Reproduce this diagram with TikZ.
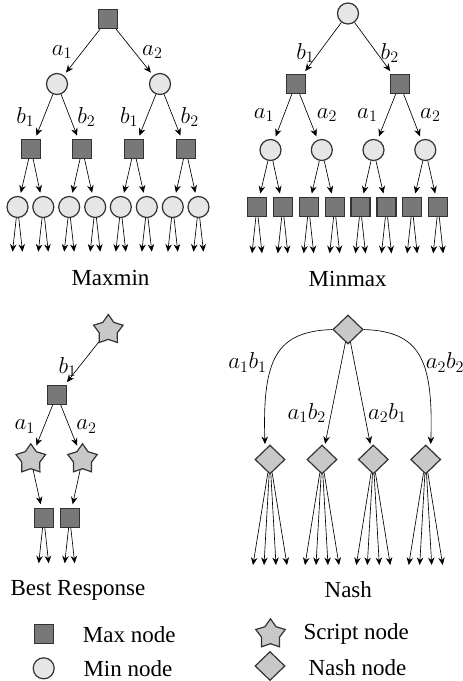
\RequirePackage{fix-cm}
\documentclass[tikz,border=0pt]{standalone}
\usepackage{fontspec}
\setmainfont{Liberation Serif}
\usetikzlibrary{shapes.geometric,arrows.meta,calc}
\definecolor{bord}{HTML}{333333}
\definecolor{maxfill}{HTML}{787878}
\definecolor{minfill}{HTML}{E6E6E6}
\definecolor{scrfill}{HTML}{C8C8C8}
\begin{document}
\begin{tikzpicture}[x=1pt,y=-1pt,
  every node/.style={font=\fontsize{23}{27}\selectfont},
  maxn/.style={rectangle,draw=bord,fill=maxfill,line width=1.2pt,minimum size=19pt,inner sep=0pt},
  minn/.style={circle,draw=bord,fill=minfill,line width=1.2pt,minimum size=21pt,inner sep=0pt},
  scriptn/.style={star,star points=5,star point ratio=1.65,draw=bord,fill=scrfill,line width=1.2pt,minimum size=31pt,inner sep=0pt},
  nashn/.style={diamond,draw=bord,fill=scrfill,line width=1.2pt,minimum width=30pt,minimum height=29pt,inner sep=0pt},
  arr/.style={-{Stealth[length=7.5pt,width=6.5pt]},line width=0.65pt,shorten >=3.5pt},
  leaf/.style={-{Stealth[length=7.5pt,width=6.5pt]},line width=0.65pt},
  lab/.style={inner sep=0pt}]
\useasboundingbox (0,0) rectangle (463,681);

% ---------------- Maxmin ----------------
\node[maxn] (A) at (108,19) {};
\node[minn] (A1) at (57,84) {};
\node[minn] (A2) at (160,84) {};
\node[maxn] (A11) at (31,149) {};
\node[maxn] (A12) at (82.3,149) {};
\node[maxn] (A21) at (134,149) {};
\node[maxn] (A22) at (185.7,149) {};
\foreach \i/\x in {1/17.5,2/43.3,3/69.2,4/95.2,5/120.8,6/146.8,7/172.8,8/198.5}{
  \node[minn] (A3-\i) at (\x,207) {};
  \coordinate (AL\i-a) at (\x-5,251.7);
  \coordinate (AL\i-b) at (\x+5,251.7);
  \draw[leaf] (A3-\i) -- (AL\i-a);
  \draw[leaf] (A3-\i) -- (AL\i-b);
}
\draw[arr] (A) -- (A1);
\draw[arr] (A) -- (A2);
\draw[arr] (A1) -- (A11);
\draw[arr] (A1) -- (A12);
\draw[arr] (A2) -- (A21);
\draw[arr] (A2) -- (A22);
\draw[arr] (A11) -- (A3-1);
\draw[arr] (A11) -- (A3-2);
\draw[arr] (A12) -- (A3-3);
\draw[arr] (A12) -- (A3-4);
\draw[arr] (A21) -- (A3-5);
\draw[arr] (A21) -- (A3-6);
\draw[arr] (A22) -- (A3-7);
\draw[arr] (A22) -- (A3-8);
\node[lab] (Aa1) at (62,52) {$a_1$};
\node[lab] (Aa2) at (152.3,52) {$a_2$};
\node[lab] (Ab1) at (25.3,117) {$b_1$};
\node[lab] (Ab2) at (86.3,117) {$b_2$};
\node[lab] (Ab3) at (129,117) {$b_1$};
\node[lab] (Ab4) at (189.7,117) {$b_2$};
\node[lab,anchor=base] (Atitle) at (110.5,285) {Maxmin};

% ---------------- Minmax ----------------
\node[minn] (B) at (348,13.5) {};
\node[maxn] (B1) at (295.7,84) {};
\node[maxn] (B2) at (399.7,84) {};
\node[minn] (B11) at (270.5,150) {};
\node[minn] (B12) at (321.8,150) {};
\node[minn] (B21) at (373.5,150) {};
\node[minn] (B22) at (425.3,150) {};
\foreach \i/\x in {1/257,2/282.8,3/308.7,4/334.7,5/360.5,6/386.5,7/412.2,8/438.2}{
  \node[maxn] (B3-\i) at (\x,207) {};
  \coordinate (BL\i-a) at (\x-5,253.3);
  \coordinate (BL\i-b) at (\x+5,253.3);
  \draw[leaf] (B3-\i) -- (BL\i-a);
  \draw[leaf] (B3-\i) -- (BL\i-b);
}
\draw[arr] (B) -- (B1);
\draw[arr] (B) -- (B2);
\draw[arr] (B1) -- (B11);
\draw[arr] (B1) -- (B12);
\draw[arr] (B2) -- (B21);
\draw[arr] (B2) -- (B22);
\draw[arr] (B11) -- (B3-1);
\draw[arr] (B11) -- (B3-2);
\draw[arr] (B12) -- (B3-3);
\draw[arr] (B12) -- (B3-4);
\draw[arr] (B21) -- (B3-5);
\draw[arr] (B21) -- (B3-6);
\draw[arr] (B22) -- (B3-7);
\draw[arr] (B22) -- (B3-8);
\node[lab] (Bb1) at (305.3,53) {$b_1$};
\node[lab] (Bb2) at (389.7,53) {$b_2$};
\node[lab] (Ba1) at (264,115.3) {$a_1$};
\node[lab] (Ba2) at (327,115.3) {$a_2$};
\node[lab] (Ba3) at (367.3,115.3) {$a_1$};
\node[lab] (Ba4) at (430.3,115.3) {$a_2$};
\node[lab,anchor=base] (Btitle) at (347.7,286) {Minmax};

% ---------------- Best Response ----------------
\node[scriptn] (C) at (108.3,330) {};
\node[maxn] (C1) at (56.7,395) {};
\node[scriptn] (C11) at (30.8,459.3) {};
\node[scriptn] (C12) at (82.5,459.3) {};
\node[maxn] (C3-1) at (43.7,517.8) {};
\node[maxn] (C3-2) at (69.7,517.8) {};
\foreach \i/\x in {1/43.7,2/69.7}{
  \coordinate (CL\i-a) at (\x-5,563.3);
  \coordinate (CL\i-b) at (\x+5,563.3);
  \draw[leaf] (C3-\i) -- (CL\i-a);
  \draw[leaf] (C3-\i) -- (CL\i-b);
}
\draw[arr] (C) -- (C1);
\draw[arr] (C1) -- (C11);
\draw[arr] (C1) -- (C12);
\draw[arr] (C11) -- (C3-1);
\draw[arr] (C12) -- (C3-2);
\node[lab] (Cb1) at (67.5,367) {$b_1$};
\node[lab] (Ca1) at (24.7,426.5) {$a_1$};
\node[lab] (Ca2) at (86.5,426.5) {$a_2$};
\node[lab,anchor=base] (Ctitle) at (78,595.7) {Best Response};

% ---------------- Nash ----------------
\node[nashn] (N) at (348,329.5) {};
\foreach \i/\x in {1/270,2/322,3/373.3,4/425.7}{
  \node[nashn] (N\i) at (\x,459.5) {};
  \coordinate (NL\i-a) at (\x-17,565);
  \coordinate (NL\i-b) at (\x-6,565);
  \coordinate (NL\i-c) at (\x+6,565);
  \coordinate (NL\i-d) at (\x+17,565);
  \draw[leaf] (N\i) -- (NL\i-a);
  \draw[leaf] (N\i) -- (NL\i-b);
  \draw[leaf] (N\i) -- (NL\i-c);
  \draw[leaf] (N\i) -- (NL\i-d);
}
\draw[arr,shorten >=5pt] (N.west) .. controls +(-55,2) and +(-3,-92) .. (N1.115);
\draw[arr,shorten >=5pt] (N.east) .. controls +(55,2) and +(3,-92) .. (N4.65);
\draw[arr,shorten >=3pt] (N) -- (N2);
\draw[arr,shorten >=3pt] (N) -- (N3);
\node[lab] (Nl1) at (247.5,362.5) {$a_1b_1$};
\node[lab] (Nl4) at (445,362.5) {$a_2b_2$};
\node[lab] (Nl2) at (306.7,413) {$a_1b_2$};
\node[lab] (Nl3) at (387.2,413) {$a_2b_1$};
\node[lab,anchor=base] (Ntitle) at (348.3,597.5) {Nash};

% ---------------- Legend ----------------
\node[maxn] (Lmax) at (43.8,634) {};
\node[lab,anchor=base west] (Lmaxt) at (82.7,642.7) {Max node};
\node[minn] (Lmin) at (43.7,668.3) {};
\node[lab,anchor=base west] (Lmint) at (83.3,676) {Min node};
\node[scriptn] (Lscr) at (270.5,634.3) {};
\node[lab,anchor=base west] (Lscrt) at (303.3,639.3) {Script node};
\node[nashn] (Lnash) at (270,666) {};
\node[lab,anchor=base west] (Lnasht) at (308.3,675) {Nash node};
\end{tikzpicture}
\end{document}
